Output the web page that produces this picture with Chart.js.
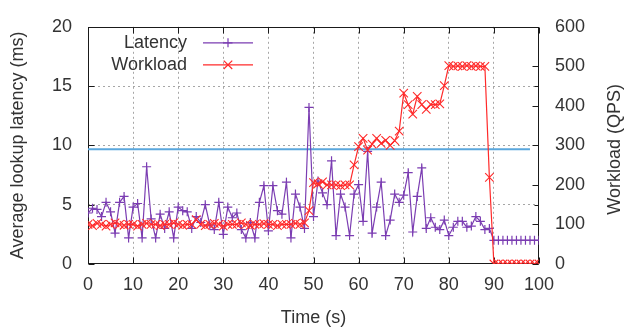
<!DOCTYPE html>
<html>
<head>
<meta charset="utf-8">
<script src="https://cdn.jsdelivr.net/npm/chart.js@4.4.1/dist/chart.umd.min.js"></script>
<style>
  html, body { margin: 0; padding: 0; background: #fff; }
  #wrap { width: 625px; height: 327px; }
</style>
</head>
<body>
<div id="wrap"><canvas id="latencyChart" width="625" height="327"></canvas></div>
<script>
// time in seconds, one sample per second
const seconds = [0, 1, 2, 3, 4, 5, 6, 7, 8, 9, 10, 11, 12, 13, 14, 15, 16, 17, 18, 19,
  20, 21, 22, 23, 24, 25, 26, 27, 28, 29, 30, 31, 32, 33, 34, 35, 36, 37, 38, 39,
  40, 41, 42, 43, 44, 45, 46, 47, 48, 49, 50, 51, 52, 53, 54, 55, 56, 57, 58, 59,
  60, 61, 62, 63, 64, 65, 66, 67, 68, 69, 70, 71, 72, 73, 74, 75, 76, 77, 78, 79,
  80, 81, 82, 83, 84, 85, 86, 87, 88, 89, 90, 91, 92, 93, 94, 95, 96, 97, 98, 99, 100];

const latencyMs = [4.3, 4.7, 4.6, 4.0, 5.2, 4.4, 2.6, 5.2, 5.7, 2.2,
  4.8, 5.1, 2.2, 8.2, 3.8, 2.2, 4.2, 3.0, 4.4, 2.2,
  4.8, 4.5, 4.4, 3.0, 4.0, 3.5, 5.0, 3.3, 2.9, 5.2,
  2.5, 4.8, 3.9, 4.3, 2.9, 2.2, 3.5, 2.2, 5.2, 6.6,
  2.8, 6.6, 4.5, 4.2, 6.9, 2.2, 5.9, 4.8, 3.0, 13.2,
  4.0, 7.0, 6.0, 5.0, 8.7, 2.4, 5.9, 4.8, 2.4, 5.9,
  6.7, 3.6, 9.5, 2.6, 4.8, 6.9, 2.4, 3.7, 5.9, 5.2,
  5.8, 7.7, 2.7, 5.7, 8.1, 3.0, 3.9, 3.1, 2.9, 3.7,
  2.4, 3.1, 3.6, 3.6, 3.1, 3.2, 4.0, 3.6, 2.9, 3.0,
  2.0, 2.0, 2.0, 2.0, 2.0, 2.0, 2.0, 2.0, 2.0, 2.0, 2.0];

const workloadQps = [100, 97, 103, 100, 96, 100, 104, 100, 98, 100,
  100, 96, 100, 103, 100, 100, 97, 100, 100, 104,
  100, 98, 100, 100, 112, 100, 97, 100, 103, 100,
  96, 100, 100, 100, 104, 100, 98, 100, 100, 102,
  100, 100, 97, 100, 100, 100, 103, 100, 104, 135,
  206, 203, 208, 200, 200, 200, 198, 200, 200, 251,
  297, 318, 288, 303, 318, 305, 313, 300, 312, 336,
  432, 403, 379, 424, 403, 391, 404, 403, 405, 451,
  502, 500, 501, 500, 502, 500, 501, 500, 500, 219,
  0, 0, 0, 0, 0, 0, 0, 0, 0, 0, 0];

// horizontal reference level (ms)
const thresholdSeconds = [0, 98];
const thresholdMs = [9.67, 9.67];

const xTickStep = 10;
const latencyTickStep = 5;
const workloadTickStep = 100;

const FONT = '"Liberation Sans", Arial, sans-serif';
const TEXT = '#333';
const PURPLE = '#7b3db2';
const RED = '#ff2a2a';
const BLUE = '#5aa7dd';
const GRID = '#a6a6a6';

function gridColor(ctx) {
  const s = ctx.scale;
  if (ctx.tick && (ctx.tick.value === s.min || ctx.tick.value === s.max)) return 'rgba(0,0,0,0)';
  return GRID;
}

// gnuplot-style frame, inward tics, legend and axis titles
const gnuplotLook = {
  id: 'gnuplotLook',
  beforeDatasetsDraw(chart) {
    const { ctx, chartArea: a, scales } = chart;
    const L = Math.round(a.left) + 0.5, R = Math.round(a.right) - 0.5;
    const T = Math.round(a.top) + 0.5, B = Math.round(a.bottom) - 0.5;
    ctx.save();
    ctx.strokeStyle = '#1a1a1a';
    ctx.lineWidth = 1;
    ctx.beginPath();
    scales.x.ticks.forEach(t => {
      const px = Math.round(scales.x.getPixelForValue(t.value)) + 0.5;
      ctx.moveTo(px, B); ctx.lineTo(px, B - 6);
      ctx.moveTo(px, T); ctx.lineTo(px, T + 6);
    });
    scales.y.ticks.forEach(t => {
      const py = Math.round(scales.y.getPixelForValue(t.value)) + 0.5;
      ctx.moveTo(L, py); ctx.lineTo(L + 6, py);
      ctx.moveTo(R, py); ctx.lineTo(R - 4, py);
    });
    scales.y2.ticks.forEach(t => {
      const py = Math.round(scales.y2.getPixelForValue(t.value)) + 0.5;
      ctx.moveTo(R, py); ctx.lineTo(R - 6, py);
    });
    ctx.stroke();
    ctx.strokeRect(L, T, R - L, B - T);
    ctx.restore();
  },
  afterDraw(chart) {
    const { ctx, chartArea: a } = chart;
    ctx.save();
    ctx.font = '18px ' + FONT;
    ctx.fillStyle = TEXT;
    ctx.textBaseline = 'middle';

    // legend
    const entries = [
      { label: 'Latency', color: PURPLE, style: 'cross', radius: 4.5, y: a.top + 16 },
      { label: 'Workload', color: RED, style: 'crossRot', radius: 6, y: a.top + 38 }
    ];
    entries.forEach(e => {
      ctx.textAlign = 'right';
      ctx.fillStyle = TEXT;
      ctx.fillText(e.label, a.left + 99, e.y);
      ctx.strokeStyle = e.color;
      ctx.lineWidth = 1.2;
      ctx.beginPath();
      ctx.moveTo(a.left + 115, e.y);
      ctx.lineTo(a.left + 165, e.y);
      ctx.stroke();
      Chart.helpers.drawPoint(ctx, { pointStyle: e.style, radius: e.radius, borderWidth: 1.2, rotation: 0 }, a.left + 140, e.y);
    });

    // axis titles
    ctx.fillStyle = TEXT;
    ctx.textAlign = 'center';
    ctx.fillText('Time (s)', (a.left + a.right) / 2, 318);
    ctx.save();
    ctx.translate(18, (a.top + a.bottom) / 2);
    ctx.rotate(-Math.PI / 2);
    ctx.fillText('Average lookup latency (ms)', 0, 0);
    ctx.restore();
    ctx.save();
    ctx.translate(615, (a.top + a.bottom) / 2 + 4);
    ctx.rotate(-Math.PI / 2);
    ctx.fillText('Workload (QPS)', 0, 0);
    ctx.restore();
    ctx.restore();
  }
};

new Chart(document.getElementById('latencyChart'), {
  type: 'line',
  data: {
    labels: seconds,
    datasets: [
      {
        label: 'Workload',
        data: workloadQps,
        yAxisID: 'y2',
        borderColor: RED,
        borderWidth: 1.2,
        pointStyle: 'crossRot',
        pointRadius: 6,
        pointBorderColor: RED,
        pointBorderWidth: 1.1,
        tension: 0
      },
      {
        label: 'Latency',
        data: latencyMs,
        yAxisID: 'y',
        borderColor: PURPLE,
        borderWidth: 1.2,
        pointStyle: 'cross',
        pointRadius: 4.5,
        pointBorderColor: PURPLE,
        pointBorderWidth: 1.2,
        tension: 0
      },
      {
        label: 'Reference',
        data: thresholdSeconds.map((s, i) => ({ x: s, y: thresholdMs[i] })),
        yAxisID: 'y',
        borderColor: BLUE,
        borderWidth: 2,
        pointRadius: 0
      }
    ]
  },
  options: {
    responsive: false,
    devicePixelRatio: 1,
    animation: false,
    layout: { padding: { top: 20, left: 0, right: 0, bottom: 0 } },
    plugins: { legend: { display: false }, tooltip: { enabled: false } },
    scales: {
      x: {
        type: 'linear',
        min: 0,
        max: 100,
        ticks: { stepSize: xTickStep, color: TEXT, padding: 10, font: { family: FONT, size: 18 } },
        grid: { drawTicks: false, color: gridColor, lineWidth: 1, borderDash: [2, 3] },
        border: { display: false, dash: [2, 3] },
        afterFit(s) { s.height = 63; }
      },
      y: {
        position: 'left',
        min: 0,
        max: 20,
        ticks: { stepSize: latencyTickStep, color: TEXT, padding: 16, font: { family: FONT, size: 18 } },
        grid: { drawTicks: false, color: gridColor, lineWidth: 1, borderDash: [2, 3] },
        border: { display: false, dash: [2, 3] },
        afterFit(s) { s.width = 88; }
      },
      y2: {
        position: 'right',
        min: 0,
        max: 600,
        ticks: { stepSize: workloadTickStep, color: TEXT, padding: 16, font: { family: FONT, size: 18 } },
        grid: { drawOnChartArea: false, drawTicks: false },
        border: { display: false },
        afterFit(s) { s.width = 86; }
      }
    }
  },
  plugins: [gnuplotLook]
});
</script>
</body>
</html>
